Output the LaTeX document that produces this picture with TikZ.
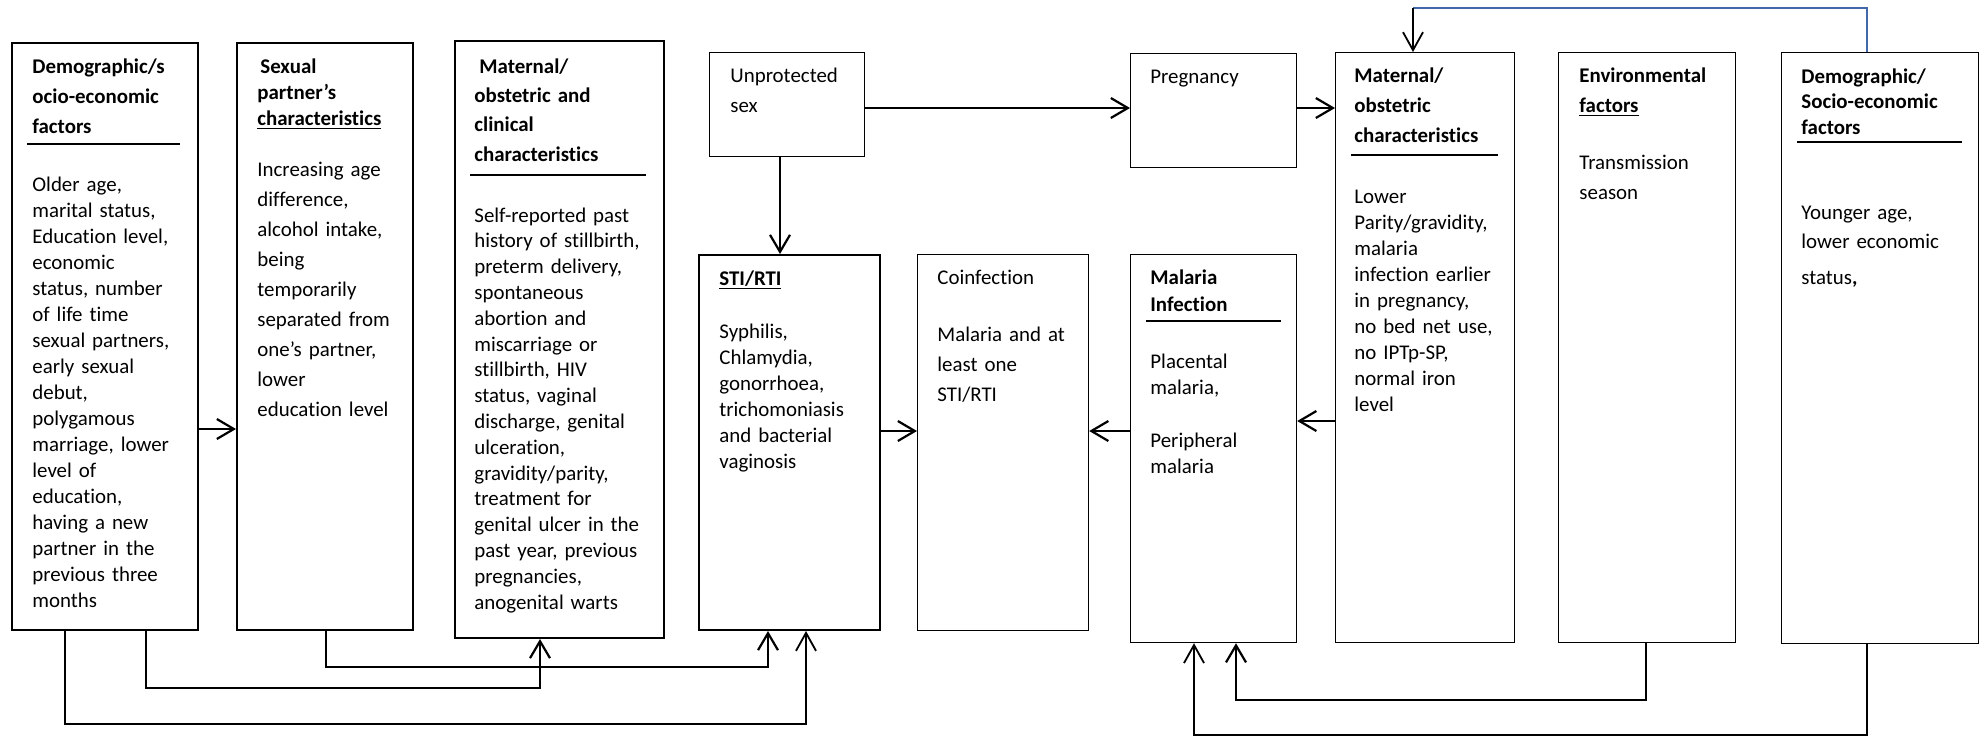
\documentclass[tikz,border=0pt]{standalone}
\usepackage{fontspec}
\setmainfont{Carlito}[Ligatures={TeX,NoCommon}]
\usetikzlibrary{arrows.meta, positioning, calc}

\definecolor{linkblue}{RGB}{65,105,170}

\newcommand{\boxfont}[1]{\fontsize{10.45}{#1}\selectfont}

\tikzset{
  heavybox/.style={draw, line width=1pt, inner sep=0pt, anchor=north west},
  lightbox/.style={draw, line width=0.6pt, inner sep=0pt, anchor=north west},
  headtext/.style={anchor=base west, inner sep=0pt, text width=95pt, align=left, font=\boxfont{#1}\bfseries},
  bodytext/.style={anchor=base west, inner sep=0pt, text width=95pt, align=left, font=\boxfont{#1}},
  headrule/.style={line width=1.3pt},
  link/.style={line width=1.1pt, -{Straight Barb[length=8.5pt, width=10pt]}},
  thinlink/.style={line width=0.6pt, -{Straight Barb[length=9pt, width=10pt, line width=0.9pt]}},
  blueline/.style={line width=0.8pt, draw=linkblue}
}

\begin{document}
\begin{tikzpicture}[x=0.5pt, y=-0.5pt]
    \useasboundingbox (0,0) rectangle (1980,736);

    % Boxes
    \node[heavybox, minimum width=93pt, minimum height=293.5pt] (demo) at (11,42) {};
    \node[heavybox, minimum width=88pt, minimum height=293.5pt] (partner) at (236,42) {};
    \node[heavybox, minimum width=104.5pt, minimum height=298.5pt] (clinical) at (454,40) {};
    \node[lightbox, minimum width=77.5pt, minimum height=52pt] (unprot) at (709,52) {};
    \node[heavybox, minimum width=90.5pt, minimum height=187.5pt] (sti) at (698,254) {};
    \node[lightbox, minimum width=85.5pt, minimum height=188pt] (coinf) at (917,254) {};
    \node[lightbox, minimum width=83pt, minimum height=57pt] (preg) at (1130,53) {};
    \node[lightbox, minimum width=83pt, minimum height=194pt] (malaria) at (1130,254) {};
    \node[lightbox, minimum width=89.5pt, minimum height=295pt] (matobs) at (1335,52) {};
    \node[lightbox, minimum width=88.5pt, minimum height=295pt] (environ) at (1558,52) {};
    \node[lightbox, minimum width=98.5pt, minimum height=295.5pt] (socio) at (1781,52) {};

    % Texts
    \node[headtext=15pt] (demo-head) at (32,73) {Demographic/s\\ocio-economic\\factors};
    \node[bodytext=13pt] (demo-body) at (32,191) {Older age,\\marital status,\\Education level,\\economic\\status, number\\of life time\\sexual partners,\\early sexual\\debut,\\polygamous\\marriage, lower\\level of\\education,\\having a new\\partner in the\\previous three\\months};

    \node[headtext=13pt] (partner-head) at (257,73) {\hspace{1.5pt}Sexual\\partner’s\\\underline{characteristics}};
    \node[bodytext=15pt] (partner-body) at (257,176) {Increasing age\\difference,\\alcohol intake,\\being\\temporarily\\separated from\\one’s partner,\\lower\\education level};

    \node[headtext=14.7pt] (clinical-head) at (474,73) {\hspace{2.5pt}Maternal/\\obstetric and\\clinical\\characteristics};
    \node[bodytext=12.9pt] (clinical-body) at (474,222) {Self-reported past\\history of stillbirth,\\preterm delivery,\\spontaneous\\abortion and\\miscarriage or\\stillbirth, HIV\\status, vaginal\\discharge, genital\\ulceration,\\gravidity/parity,\\treatment for\\genital ulcer in the\\past year, previous\\pregnancies,\\anogenital warts};

    \node[bodytext=15pt] (unprot-text) at (730,82) {Unprotected\\sex};

    \node[headtext=13pt] (sti-head) at (719,285) {\underline{STI/RTI}};
    \node[bodytext=13pt] (sti-body) at (719,338) {Syphilis,\\Chlamydia,\\gonorrhoea,\\trichomoniasis\\and bacterial\\vaginosis};

    \node[bodytext=15pt] (coinf-text) at (937,284) {Coinfection\\[13.5pt]Malaria and at\\least one\\STI/RTI};

    \node[bodytext=13pt] (preg-text) at (1150,83) {Pregnancy};

    \node[headtext=13.5pt] (malaria-head) at (1150,284) {Malaria\\Infection};
    \node[bodytext=13pt] (malaria-body) at (1150,368) {Placental\\malaria,\\[13.5pt]Peripheral\\malaria};

    \node[headtext=15.2pt] (matobs-head) at (1354,82) {Maternal/\\obstetric\\characteristics};
    \node[bodytext=13pt] (matobs-body) at (1354,203) {Lower\\Parity/gravidity,\\malaria\\infection earlier\\in pregnancy,\\no bed net use,\\no IPTp-SP,\\normal iron\\level};

    \node[headtext=15pt] (environ-head) at (1579,82) {Environmental\\\underline{factors}};
    \node[bodytext=15pt] (environ-body) at (1579,169) {Transmission\\season};

    \node[headtext=12.75pt] (socio-head) at (1801,83) {Demographic/\\Socio-economic\\factors};
    \node[bodytext=14.5pt] (socio-body) at (1801,219) {Younger age,\\lower economic\\[3.5pt]status\textbf{,}};

    % Heading rules
    \draw[headrule] (27,144) -- (180,144);
    \draw[headrule] (470,175) -- (646,175);
    \draw[headrule] (1146,321) -- (1281,321);
    \draw[headrule] (1351,155) -- (1498,155);
    \draw[headrule] (1797,142) -- (1962,142);

    % Left side links
    \draw[link] (demo.east |- 0,429) -- (partner.west |- 0,429);
    \draw[link] (partner.south -| 326,0) |- (768,667) -- (sti.south -| 768,0);
    \draw[link] (demo.south -| 146,0) |- (540,688) -- (clinical.south -| 540,0);
    \draw[thinlink] (demo.south -| 65,0) |- (806,724) -- (sti.south -| 806,0);

    % Middle links
    \draw[link] (unprot.south -| 780,0) -- (sti.north -| 780,0);
    \draw[link] (unprot.east |- 0,108) -- (preg.west |- 0,108);
    \draw[link] (preg.east |- 0,108) -- (matobs.west |- 0,108);
    \draw[link] (sti.east |- 0,431) -- (coinf.west |- 0,431);
    \draw[link] (malaria.west |- 0,431) -- (coinf.east |- 0,431);
    \draw[link] (matobs.west |- 0,421) -- (malaria.east |- 0,421);

    % Right side links
    \draw[link] (environ.south -| 1646,0) |- (1236,700) -- (malaria.south -| 1236,0);
    \draw[thinlink] (socio.south -| 1867,0) |- (1194,735) -- (malaria.south -| 1194,0);
    \coordinate (bend) at (1413,8);
    \draw[blueline] (socio.north -| 1867,0) |- (bend);
    \draw[thinlink] (bend) -- (matobs.north -| bend);
\end{tikzpicture}
\end{document}
